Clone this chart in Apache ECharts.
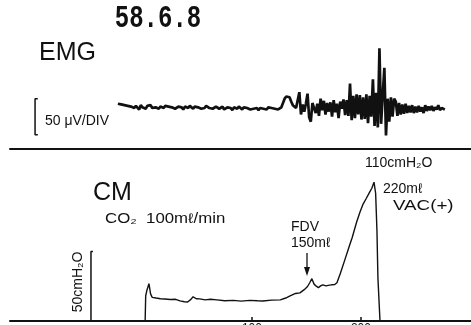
<!DOCTYPE html>
<html>
<head>
<meta charset="utf-8">
<script src="https://cdn.jsdelivr.net/npm/echarts@6/dist/echarts.min.js"></script>
<style>
  html, body { margin: 0; padding: 0; background: #fff; }
  #chart { width: 471px; height: 325px; }
</style>
</head>
<body>
<div id="chart"></div>
<script>
// EMG trace, µV, one sample every EMG_STEP ml starting at EMG_START
const EMG_START = -23;
const EMG_STEP = 1.5;
const emgValues = [
  3, 4, 2, 3, 1, 3, 0, 2, -1, 1,
  -3, 0, -2, -5, 1, -2, -1, -4, 0, -2,
  1, -3, -1, -2, 0, -4, -1, -2, -3, 0,
  -2, -1, -3, -2, 0, -4, -2, -1, -3, -2,
  -5, -1, -2, -3, 0, -2, -4, -1, -3, -2,
  -1, -4, -2, -3, 0, -2, -3, -1, -4, -2,
  -1, -2, -4, -3, -1, -5, -3, -2, -4, -3,
  -6, -2, -3, -4, -1, -3, -5, -2, -4, -3,
  -2, -5, -3, -4, -2, -3, -6, -3, -2, -4,
  -3, -5, -2, -4, -3, -1, -4, -3, -5, -3,
  -2, 4, 10, 13, 14, 12, 6, 1, -1, -3,
  -2, 19, -12, 2, -8, 3, 17, -16, -22, 4,
  6, -10, 3, -14, 10, -6, 7, -12, 4, -8,
  5, -15, 8, -9, 3, -17, 6, -4, 9, -13,
  8, -14, 31, -20, 14, -17, 16, -12, 15, -19,
  12, -18, 16, -24, 14, -15, 37, -28, 18, -30,
  80, -25, 15, 53, -41, 10, -22, 12, -15, 10,
  6, -14, 4, -12, 2, -11, 3, -10, 0, -9,
  1, -10, -1, -9, 0, -8, -2, -10, 1, -7,
  -1, -6, 0, -7, -2, -5, 1, -6, -3, -4,
  -5
];

// CM pressure (cmH2O) against volume (ml)
const cmVolume = [
  2, 2.5, 3.5, 5.5, 7, 8.5, 12, 16, 20, 25,
  30, 34, 38, 41, 44, 46, 49, 52, 57, 62,
  68, 75, 83, 90, 98, 105, 110, 118, 126, 131,
  135, 140, 144, 148, 151, 153, 155, 157, 159, 161,
  163, 165, 168, 170, 173, 176, 178, 181, 185, 189,
  192, 196, 199, 202, 205, 208, 210, 212, 213.5, 214.7,
  215.6, 217.5
];
const cmPressure = [
  0, 18, 21.7, 26.8, 19.5, 17, 16.5, 16, 15.8, 15.4,
  15.6, 14.5, 13.8, 13.7, 15.5, 17.4, 16, 15.9, 15.2, 15.6,
  15.2, 14.6, 14.8, 14.3, 14.8, 14.5, 14.4, 15, 15.2, 16.5,
  18, 19.8, 20.2, 22.5, 24.8, 27.5, 30.4, 26.5, 25, 24,
  25.2, 26, 25.2, 25.6, 26, 26.2, 27.5, 34, 43.4, 53,
  60, 71, 78, 84, 88.2, 92.6, 95.4, 99.8, 91.8, 65,
  31, 0
];

const xTicks = [100, 200];
const emgScale = 50;   // µV per division
const cmScale = 50;    // cmH2O
const EMG_BAR_X = -99;
const CM_BAR_X = -47.7;

const INK = '#111';
const SANS = '"Liberation Sans", Arial, sans-serif';

const emgData = emgValues.map((v, i) => [EMG_START + i * EMG_STEP, v]);
const cmData = cmVolume.map((v, i) => [v, cmPressure[i]]);

const chart = echarts.init(document.getElementById('chart'), null, { renderer: 'canvas' });

const baseX = {
  type: 'value',
  min: -122,
  max: 301,
  splitLine: { show: false },
  axisLine: { show: true, onZero: false, lineStyle: { color: INK, width: 2 } },
};

const text = (str, x, y, size, extra) => Object.assign({
  type: 'text',
  x: x,
  y: y,
  style: {
    text: str,
    font: size + 'px ' + SANS,
    fill: INK,
    align: 'left',
    verticalAlign: 'middle',
  },
}, extra || {});

chart.setOption({
  animation: false,
  backgroundColor: '#fff',
  grid: [
    { left: 10, right: 0, top: 34, height: 115, outerBoundsMode: 'none', containLabel: false },
    { left: 10, right: 0, top: 154, bottom: 4, outerBoundsMode: 'none', containLabel: false },
  ],
  xAxis: [
    Object.assign({}, baseX, {
      gridIndex: 0,
      axisTick: { show: false },
      axisLabel: { show: false },
    }),
    Object.assign({}, baseX, {
      gridIndex: 1,
      axisTick: {
        show: true, inside: true, length: 4, customValues: xTicks,
        lineStyle: { color: INK, width: 1.5 },
      },
      axisLabel: {
        show: true, customValues: xTicks, margin: 2,
        color: INK, fontSize: 12, fontFamily: SANS,
      },
    }),
  ],
  yAxis: [
    { type: 'value', gridIndex: 0, min: -60, max: 100, show: false },
    { type: 'value', gridIndex: 1, min: 0, max: 120, show: false },
  ],
  series: [
    {
      type: 'line', xAxisIndex: 0, yAxisIndex: 0, data: emgData,
      showSymbol: false, lineStyle: { color: INK, width: 2.7 },
    },
    {
      type: 'line', xAxisIndex: 0, yAxisIndex: 0, showSymbol: false,
      data: [[EMG_BAR_X + 2.5, 10], [EMG_BAR_X, 10], [EMG_BAR_X, 10 - emgScale], [EMG_BAR_X + 2.5, 10 - emgScale]],
      lineStyle: { color: INK, width: 1.5 },
    },
    {
      type: 'line', xAxisIndex: 1, yAxisIndex: 1, data: cmData,
      showSymbol: false, lineStyle: { color: INK, width: 1.4 },
    },
    {
      type: 'line', xAxisIndex: 1, yAxisIndex: 1, showSymbol: false,
      data: [[CM_BAR_X, 0], [CM_BAR_X, cmScale], [CM_BAR_X + 1.8, cmScale]],
      lineStyle: { color: INK, width: 1.5 },
    },
  ],
  graphic: [
    {
      type: 'text', x: 158, y: 19, scaleY: 1.3,
      style: {
        text: '58.6.8', font: 'bold 24px "Liberation Mono", monospace',
        fill: INK, align: 'center', verticalAlign: 'middle',
      },
    },
    text('EMG', 39, 53, 25),
    text('50 μV/DIV', 45, 121, 14),
    text('CM', 93, 193, 25),
    text('CO₂  100mℓ/min', 105, 219, 14, { scaleX: 1.2 }),
    text('50cmH₂O', 78, 282, 14, {
      rotation: Math.PI / 2,
      style: {
        text: '50cmH₂O', font: '14px ' + SANS, fill: INK,
        align: 'center', verticalAlign: 'middle',
      },
    }),
    text('110cmH₂O', 365, 163, 14),
    text('220mℓ', 383, 189, 14),
    text('VAC(+)', 393, 206, 15, { scaleX: 1.25 }),
    text('FDV', 291, 227, 14),
    text('150mℓ', 291, 243, 14),
    {
      type: 'line',
      shape: { x1: 307, y1: 253, x2: 307, y2: 270 },
      style: { stroke: INK, lineWidth: 1.3 },
    },
    {
      type: 'polygon',
      shape: { points: [[304, 267], [310, 267], [307, 276]] },
      style: { fill: INK },
    },
  ],
});
</script>
</body>
</html>
